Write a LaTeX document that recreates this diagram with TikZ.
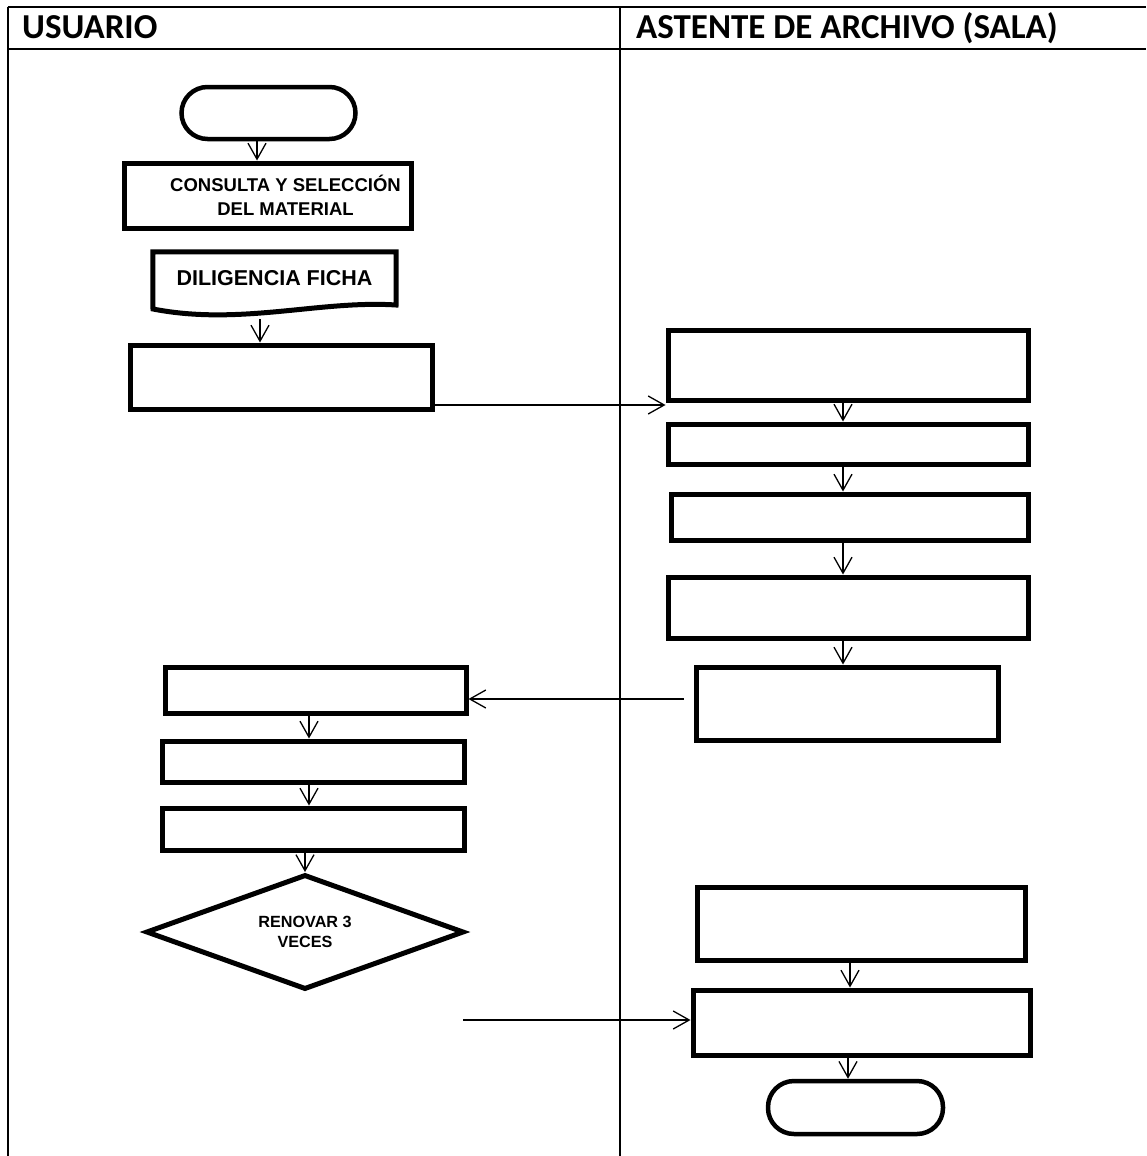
\documentclass[tikz,border=0pt]{standalone}
\usepackage{fontspec}
\setmainfont{Liberation Sans}
\newfontfamily\calibri{Carlito}
\usetikzlibrary{arrows.meta,shapes.geometric}

\begin{document}
\begin{tikzpicture}[x=1pt,y=-1pt]
		\tikzstyle{tabla}=[line width=2pt]
		\tikzstyle{encabezado}=[anchor=base west,inner sep=0pt,font=\calibri\bfseries\fontsize{35}{40}\selectfont]
		\tikzstyle{caja}=[draw,line width=5pt,rectangle,inner sep=0pt]
		\tikzstyle{terminal}=[draw,line width=4.5pt,rectangle,rounded corners=26pt,minimum width=174pt,minimum height=52pt]
		\tikzstyle{decision}=[draw,line width=5pt,diamond,aspect=2.7,inner sep=0pt,minimum width=318pt,minimum height=115pt,align=center,font=\bfseries\fontsize{16.2}{20}\selectfont]
		\tikzstyle{texto}=[align=center,font=\bfseries\fontsize{18.5}{24}\selectfont]
		\tikzstyle{flecha}=[line width=1.3pt,-{Straight Barb[length=16pt,width=18pt]}]
		\useasboundingbox (0,0) rectangle (1146,1156);
		% tabla de carriles
		\draw[tabla] (7.5,7.5) -- (1146,7.5);
		\draw[tabla] (7.5,49) -- (1146,49);
		\draw[tabla] (7.5,7.5) -- (7.5,1156);
		\draw[tabla] (620,7.5) -- (620,1156);
		\node[encabezado] (usuario) at (22,38) {USUARIO};
		\node[encabezado] (asistente) at (636,38) {ASTENTE DE ARCHIVO (SALA)};
		% usuario
		\node[terminal] (inicio) at (268.5,113) {};
		\node[caja,minimum width=287pt,minimum height=65pt,label={[texto,xshift=18pt]center:CONSULTA Y SELECCIÓN\\DEL MATERIAL}] (consulta) at (267.5,195.5) {};
		\node[minimum width=243pt,minimum height=52pt,inner sep=0pt,font=\bfseries\fontsize{21.5}{24}\selectfont] (ficha) at (274.5,278) {DILIGENCIA FICHA};
		\draw[line width=5pt,line join=miter] (ficha.south west) -- (ficha.north west) -- (ficha.north east) -- (396,305) .. controls (320,300) and (240,326) .. (153,309) -- cycle;
		\coordinate (fichab) at (260,319);
		\node[caja,minimum width=302pt,minimum height=64pt] (b5) at (281,377) {};
		\node[caja,minimum width=301pt,minimum height=46pt] (l1) at (315.5,690) {};
		\node[caja,minimum width=302pt,minimum height=41pt] (l2) at (313,761.5) {};
		\node[caja,minimum width=302pt,minimum height=42pt] (l3) at (313,829) {};
		\node[decision] (renovar) at (305,932) {RENOVAR 3\\VECES};
		\coordinate (renovb) at (463,1020);
		% asistente
		\node[caja,minimum width=360pt,minimum height=70pt] (r1) at (848,365) {};
		\node[caja,minimum width=360pt,minimum height=40pt] (r2) at (848,444) {};
		\node[caja,minimum width=357pt,minimum height=46pt] (r3) at (849.5,517) {};
		\node[caja,minimum width=360pt,minimum height=61pt] (r4) at (848,607.5) {};
		\node[caja,minimum width=302pt,minimum height=73pt] (r5) at (847,703.5) {};
		\node[caja,minimum width=328pt,minimum height=73pt] (r6) at (861,923.5) {};
		\node[caja,minimum width=337pt,minimum height=65pt] (r7) at (861.5,1022.5) {};
		\node[terminal,minimum width=175pt,minimum height=53pt] (fin) at (855.5,1107.5) {};
		% flechas
		\draw[flecha] (inicio.south -| 257,0) -- (consulta.north -| 257,0);
		\draw[flecha] (fichab) -- (fichab |- b5.north);
		\draw[flecha] (b5.east |- 0,405) -- (r1.west |- 0,405);
		\draw[flecha] (r1.south -| 843,0) -- (r2.north -| 843,0);
		\draw[flecha] (r2.south -| 843,0) -- (r3.north -| 843,0);
		\draw[flecha] (r3.south -| 843,0) -- (r4.north -| 843,0);
		\draw[flecha] (r4.south -| 843,0) -- (r5.north -| 843,0);
		\draw[flecha] ([xshift=-10pt]r5.west |- 0,699) -- (l1.east |- 0,699);
		\draw[flecha] (l1.south -| 309,0) -- (l2.north -| 309,0);
		\draw[flecha] (l2.south -| 309,0) -- (l3.north -| 309,0);
		\draw[flecha] (l3.south -| 305,0) -- (renovar.north);
		\draw[flecha] (renovb) -- (renovb -| r7.west);
		\draw[flecha] (r6.south -| 850,0) -- (r7.north -| 850,0);
		\draw[flecha] (r7.south -| 848,0) -- (fin.north -| 848,0);
\end{tikzpicture}
\end{document}
